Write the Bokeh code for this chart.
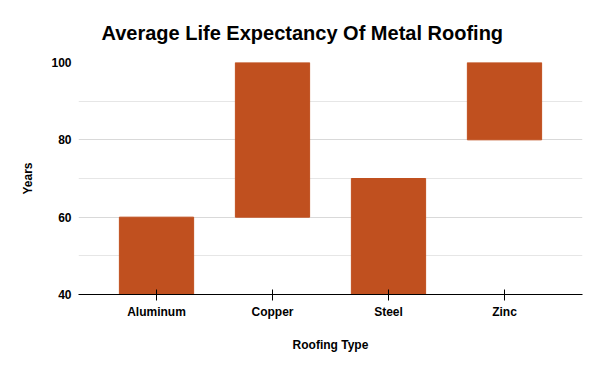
from bokeh.plotting import figure
from bokeh.models import FactorRange, Range1d, FixedTicker
from bokeh.embed import file_html
from bokeh.resources import INLINE

categories = ["Aluminum", "Copper", "Steel", "Zinc"]
low_years = [40, 60, 40, 80]
high_years = [60, 100, 70, 100]
y_ticks = [40, 60, 80, 100]
y_minor = [50, 70, 90]

BAR = "#C0501F"
FONT = "Liberation Sans"

p = figure(width=592, height=363, output_backend="svg", toolbar_location=None,
           x_range=FactorRange(factors=categories, range_padding=0.1725, range_padding_units="absolute"),
           y_range=Range1d(40, 100),
           title="Average Life Expectancy Of Metal Roofing",
           min_border_left=78, min_border_right=10, min_border_top=62, min_border_bottom=69)

p.vbar(x=categories, bottom=low_years, top=high_years, width=0.64, color=BAR)

p.title.text_font = FONT
p.title.text_font_size = "20px"
p.title.text_font_style = "bold"
p.title.text_color = "black"
p.title.offset = 23
p.title.standoff = 38

p.outline_line_color = None
p.xgrid.grid_line_color = None
p.ygrid.ticker = FixedTicker(ticks=y_ticks, minor_ticks=y_minor)
p.ygrid.grid_line_color = "#d9d9d9"
p.ygrid.minor_grid_line_color = "#e6e6e6"

p.yaxis.ticker = FixedTicker(ticks=y_ticks)
p.yaxis.axis_line_color = None
p.yaxis.major_tick_line_color = None
p.yaxis.minor_tick_line_color = None
p.yaxis.major_tick_out = 0
p.yaxis.major_tick_in = 0
p.yaxis.minor_tick_out = 0
p.yaxis.major_label_text_font = FONT
p.yaxis.major_label_text_font_style = "bold"
p.yaxis.major_label_text_font_size = "12px"
p.yaxis.major_label_text_color = "black"
p.yaxis.major_label_standoff = 7
p.yaxis.axis_label = "Years"
p.yaxis.axis_label_text_font = FONT
p.yaxis.axis_label_text_font_style = "bold"
p.yaxis.axis_label_text_font_size = "12px"
p.yaxis.axis_label_text_color = "black"
p.yaxis.axis_label_standoff = 13

p.xaxis.axis_line_color = "black"
p.xaxis.major_tick_line_color = "black"
p.xaxis.major_tick_in = 5
p.xaxis.major_tick_out = 6
p.xaxis.major_label_text_font = FONT
p.xaxis.major_label_text_font_style = "bold"
p.xaxis.major_label_text_font_size = "12px"
p.xaxis.major_label_text_color = "black"
p.xaxis.major_label_standoff = 4
p.xaxis.axis_label = "Roofing Type"
p.xaxis.axis_label_text_font = FONT
p.xaxis.axis_label_text_font_style = "bold"
p.xaxis.axis_label_text_font_size = "12px"
p.xaxis.axis_label_text_color = "black"
p.xaxis.axis_label_standoff = 16

open("out.html", "w").write(file_html(p, INLINE))
